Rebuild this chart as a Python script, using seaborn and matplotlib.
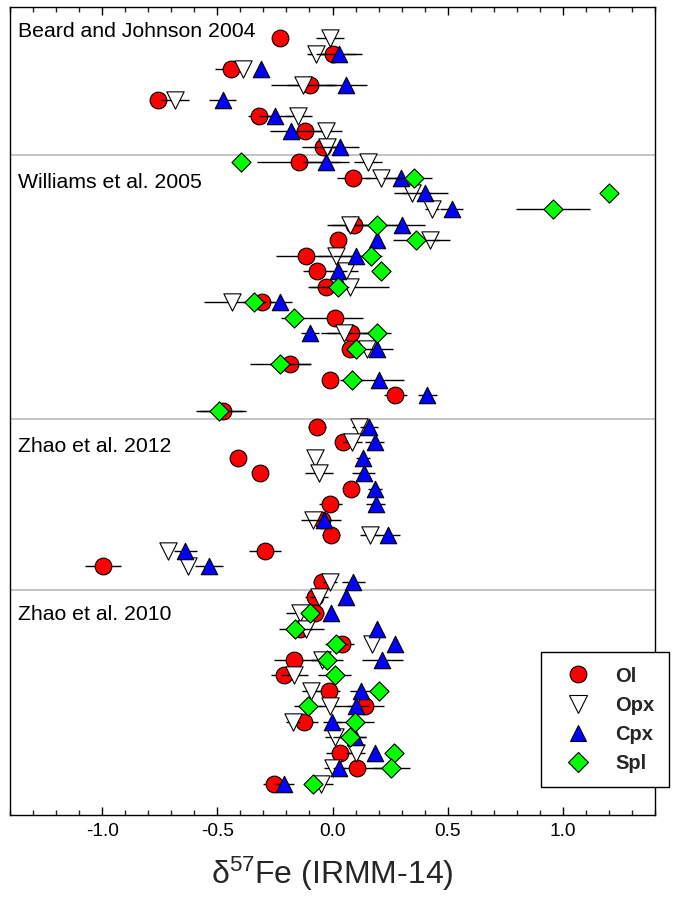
import numpy as np
import pandas as pd
import matplotlib
matplotlib.use("Agg")
import matplotlib.pyplot as plt
import seaborn as sns
from matplotlib.lines import Line2D
from matplotlib import font_manager
from matplotlib.ticker import MultipleLocator

nan = np.nan

# ---- data (row index 0 = top) ----
ol_val = [-0.23, 0.00, -0.44, -0.096, -0.758, -0.317, -0.119, -0.042,
          -0.146, 0.091, nan, nan, 0.093, 0.023, -0.117, -0.068, -0.027, -0.306, 0.012, 0.081, 0.077, -0.184, -0.01, 0.273, -0.477,
          -0.068, 0.045, -0.409, -0.315, 0.081, -0.009, -0.045, -0.006, -0.292, -0.996, -0.045,
          -0.078, -0.078, -0.14, 0.042, -0.165, -0.209, -0.017, 0.143, -0.122, nan, 0.033, 0.106, -0.252]
ol_err = [0, 0.10, 0.07, 0.10, 0, 0.05, 0.08, 0.09,
          0.18, 0.07, nan, nan, 0.10, 0, 0.13, 0.06, 0.08, 0.05, 0.12, 0.10, 0, 0.09, 0.01, 0.05, 0.10,
          0.04, 0.03, 0, 0, 0, 0.05, 0.04, 0.04, 0.07, 0.08, 0.04,
          0.04, 0.04, 0.05, 0.05, 0.09, 0.06, 0.05, 0.08, 0.06, nan, 0.06, 0.12, 0.05]

opx_val = [-0.01, -0.07, -0.39, -0.126, -0.684, -0.148, -0.027, -0.025,
           0.154, 0.212, 0.346, 0.433, 0.078, 0.422, 0.016, 0.06, 0.074, -0.436, nan, 0.052, 0.151, nan, nan, nan, nan,
           0.114, 0.086, -0.074, -0.059, nan, nan, -0.085, 0.161, -0.716, -0.629, -0.01,
           -0.059, -0.143, -0.117, 0.172, -0.045, -0.165, -0.093, -0.01, -0.17, 0.009, 0.10, 0.001, -0.049]
opx_err = [0.06, 0.04, 0, 0.14, 0.06, 0.06, 0.07, 0.05,
           0.06, 0.07, 0.08, 0.03, 0.10, 0.09, 0.08, 0.05, 0.17, 0.12, nan, 0.10, 0.05, nan, nan, nan, nan,
           0.03, 0.04, 0, 0.06, nan, nan, 0.05, 0.04, 0, 0, 0.03,
           0.04, 0.06, 0.08, 0, 0.05, 0.06, 0.04, 0.05, 0.03, 0.04, 0.04, 0.04, 0.05]

cpx_val = [nan, 0.03, -0.31, 0.06, -0.477, -0.25, -0.18, 0.033,
           -0.027, 0.299, 0.40, 0.517, 0.30, 0.193, 0.103, 0.023, nan, -0.227, nan, -0.097, 0.193, nan, 0.201, 0.412, nan,
           0.158, 0.183, 0.132, 0.135, 0.183, 0.187, -0.035, 0.241, -0.639, -0.535, 0.091,
           0.057, -0.006, 0.193, 0.27, 0.216, nan, 0.124, 0.10, -0.003, 0.096, 0.183, 0.03, -0.209]
cpx_err = [nan, 0.10, 0, 0.09, 0.06, 0.07, 0.09, 0.08,
           0.10, 0.08, 0.10, 0.05, 0.10, 0, 0.10, 0.04, nan, 0.05, nan, 0.04, 0.07, nan, 0.11, 0.04, nan,
           0.04, 0.04, 0.03, 0.05, 0.03, 0.04, 0.07, 0.05, 0.05, 0.06, 0.05,
           0, 0, 0, 0, 0.09, nan, 0.05, 0.06, 0.04, 0.05, 0, 0.03, 0.04]

spl_val = [nan] * 8 + [-0.397, 0.352, 1.20, 0.957, 0.194, 0.364, 0.165, 0.212, 0.023, -0.339, -0.165, 0.193, 0.103, -0.227, 0.084, nan, -0.494] \
          + [nan] * 12 + [-0.097, -0.161, 0.016, -0.025, 0.009, 0.201, -0.107, 0.099, 0.074, 0.265, 0.255, -0.085]
spl_err = [nan] * 8 + [0, 0.08, 0, 0.16, 0.10, 0.10, 0.05, 0, 0.05, 0.05, 0.06, 0.06, 0, 0.13, 0.05, nan, 0.10] \
          + [nan] * 12 + [0.04, 0.07, 0.05, 0.07, 0.07, 0, 0.06, 0.08, 0.07, 0, 0.08, 0.04]

mineral_names = ["Ol", "Opx", "Cpx", "Spl"]
study_labels = ["Beard and Johnson 2004", "Williams et al. 2005", "Zhao et al. 2012", "Zhao et al. 2010"]
study_label_rows = [-0.4, 9.3, 26.3, 37.1]
study_separators = [7.5, 24.5, 35.5]
x_ticks = [-1.0, -0.5, 0.0, 0.5, 1.0]

# ---- style ----
sns.set_style("white")
names = {f.name for f in font_manager.fontManager.ttflist}
narrow = "Liberation Sans Narrow" if "Liberation Sans Narrow" in names else None
plt.rcParams["font.family"] = ["Liberation Sans", "DejaVu Sans"]
if narrow:
    tick_font, tick_size, lab_size = narrow, 16.5, 27
else:
    tick_font, tick_size, lab_size = "Liberation Sans", 13.8, 23
plt.rcParams["mathtext.fontset"] = "custom"
plt.rcParams["mathtext.rm"] = tick_font
plt.rcParams["mathtext.it"] = tick_font
plt.rcParams["mathtext.default"] = "regular"

fig = plt.figure(figsize=(6.75, 9.17), dpi=100)
ax = fig.add_axes([10 / 675, 1 - 815 / 917, 645 / 675, 808 / 917])

rows = np.arange(len(ol_val))
spec = [
    ("Ol", ol_val, ol_err, "o", "#ff0000", 145),
    ("Opx", opx_val, opx_err, "v", "#ffffff", 155),
    ("Cpx", cpx_val, cpx_err, "^", "#0000ff", 140),
    ("Spl", spl_val, spl_err, "D", "#00ff00", 95),
]

for y in study_separators:
    ax.axhline(y, color="#b4b4b4", lw=1.1, zorder=1)

for i, (name, vals, errs, mk, col, size) in enumerate(spec):
    df = pd.DataFrame({"x": vals, "e": errs, "y": rows}).dropna(subset=["x"])
    df["e"] = df["e"].fillna(0)
    ax.errorbar(df["x"], df["y"], xerr=df["e"], fmt="none", ecolor="black",
                elinewidth=1.0, capsize=0, zorder=2 + 2 * i)
    sns.scatterplot(data=df, x="x", y="y", marker=mk, color=col, edgecolor="black",
                    linewidth=0.8, s=size, ax=ax, zorder=3 + 2 * i, legend=False)

for lab, r in zip(study_labels, study_label_rows):
    ax.text(-1.365, r, lab, ha="left", va="center", fontsize=15.3, color="black")

ax.set_xlim(-1.4, 1.4)
ax.set_ylim(50, -2)
ax.set_ylabel("")
ax.set_yticks([])
ax.set_xticks(x_ticks)
ax.set_xticklabels([f"{t:.1f}" for t in x_ticks], fontsize=tick_size, family=tick_font)
ax.xaxis.set_minor_locator(MultipleLocator(0.1))
ax.tick_params(axis="x", which="major", direction="in", length=6, width=1, top=True, bottom=True, pad=6, colors="black")
ax.tick_params(axis="x", which="minor", direction="in", length=3.5, width=1, top=True, bottom=True)
ax.set_xlabel("δ$^{57}$Fe (IRMM-14)", fontsize=lab_size, family=tick_font, labelpad=10)
for s in ax.spines.values():
    s.set_color("black")
    s.set_linewidth(1.0)

handles = []
for name, vals, errs, mk, col, size in spec:
    handles.append(Line2D([], [], marker=mk, ls="", mfc=col, mec="black", mew=0.8,
                          ms=np.sqrt(size)))
leg = fig.legend(handles, mineral_names, loc="upper left",
                 bbox_to_anchor=(541 / 675, 1 - 652 / 917), bbox_transform=fig.transFigure,
                 frameon=True, fancybox=False, edgecolor="black", framealpha=1,
                 prop={"weight": "bold", "size": 14.5}, borderpad=0.72, handlelength=2.26,
                 handletextpad=0.72, labelspacing=0.5, borderaxespad=0)
leg.get_frame().set_linewidth(1.0)

fig.savefig("out.png", dpi=100)
